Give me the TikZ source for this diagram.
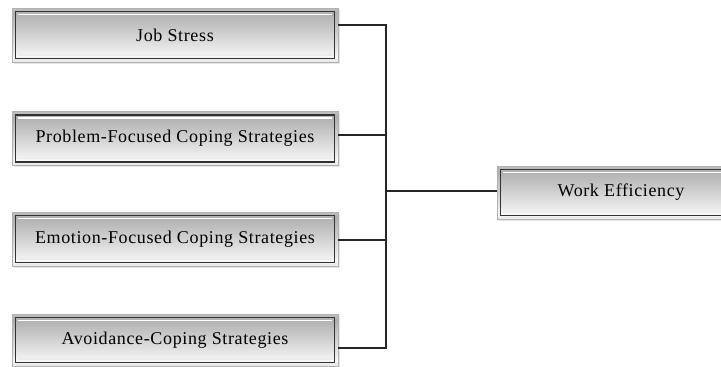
\documentclass[tikz,border=0pt]{standalone}
\usepackage{fontspec}
\setmainfont[LetterSpace=3.5]{Liberation Serif}
\usetikzlibrary{calc,shadows}
\pgfdeclareverticalshading{boxshade}{100bp}{color(0bp)=(gray!20); color(25bp)=(gray!20); color(30bp)=(gray!6); color(36bp)=(gray!16); color(55bp)=(gray!42); color(70bp)=(gray!62); color(75bp)=(gray!50); color(100bp)=(gray!50)}
\tikzset{
  bx/.style={rectangle, minimum height=54pt, inner sep=0pt, shading=boxshade,
    draw=gray!60, line width=0.8pt, text=black,
    font=\fontsize{18}{20}\selectfont,
    drop shadow={opacity=0.2, shadow xshift=1.5pt, shadow yshift=-1.5pt},
    path picture={
      \draw[black!80, line width=1.4pt]
        ([shift={(3.5pt,3.5pt)}]path picture bounding box.south west) rectangle
        ([shift={(-3.5pt,-3.5pt)}]path picture bounding box.north east);
      \draw[white, line width=1.4pt]
        ([shift={(6pt,-6.5pt)}]path picture bounding box.north west) --
        ([shift={(-6pt,-6.5pt)}]path picture bounding box.north east);
      \draw[white!85!gray, line width=1.4pt]
        ([shift={(6pt,7pt)}]path picture bounding box.south west) --
        ([shift={(-6pt,7pt)}]path picture bounding box.south east);
    }},
  lbx/.style={bx, minimum width=326pt},
  rbx/.style={bx, minimum width=248pt, minimum height=53pt},
  conn/.style={draw=black!85, line width=1.3pt}
}
\begin{document}
\begin{tikzpicture}[x=1pt,y=-1pt]
\useasboundingbox (0,0) rectangle (721,367);
\clip (0,0) rectangle (721,367);
\node[lbx] (b1) at (175,35) {Job Stress};
\node[lbx] (b2) at (175,138.5) {Problem-Focused Coping Strategies};
\node[lbx] (b3) at (175,239) {Emotion-Focused Coping Strategies};
\node[lbx, minimum height=52pt] (b4) at (175,340) {Avoidance-Coping Strategies};
\node[rbx] (we) at (621,192.5) {Work Efficiency};
\coordinate (p1) at ([yshift=10pt]b1.east);
\coordinate (p2) at ([yshift=3.5pt]b2.east);
\coordinate (p3) at ([yshift=-1pt]b3.east);
\coordinate (p4) at ([yshift=-8pt]b4.east);
\coordinate (t1) at (386,25);
\coordinate (t4) at (386,348);
\coordinate (j) at (386,191);
\draw[conn] (p1) -- (t1) -- (t4) -- (p4);
\draw[conn] (p2) -- (p2 -| t1);
\draw[conn] (p3) -- (p3 -| t1);
\draw[conn] (j) -- (j -| we.west);
\end{tikzpicture}
\end{document}
